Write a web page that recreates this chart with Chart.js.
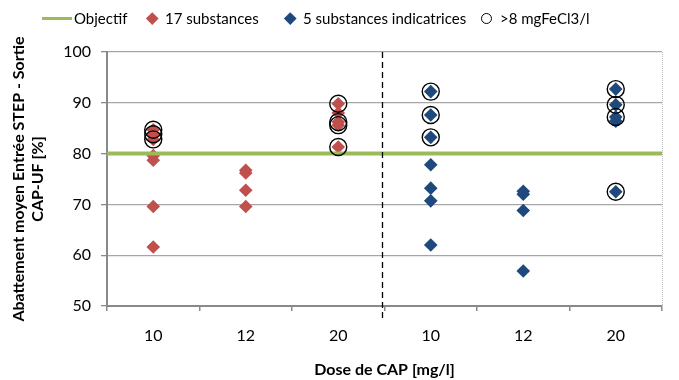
<!DOCTYPE html>
<html>
<head>
<meta charset="utf-8">
<script src="https://cdn.jsdelivr.net/npm/chart.js@4/dist/chart.umd.min.js"></script>
<style>
  html, body { margin: 0; padding: 0; background: #fff; }
  #wrap { position: relative; width: 679px; height: 380px; }
  #legend { position: absolute; left: 0; top: 0; width: 679px; height: 36px; font-family: Lato, sans-serif; font-size: 15px; color: #000; }
  #legend .it { position: absolute; top: 9px; height: 18px; line-height: 18px; white-space: nowrap; }
  .mk { position: absolute; }
  .mk-line { width: 30px; height: 3px; background: #9BBB59; top: 8px; }
  .mk-dia { width: 8.5px; height: 8.5px; transform: rotate(45deg); top: 5px; }
  .mk-circ { width: 9px; height: 9px; border: 1.3px solid #000; border-radius: 50%; top: 3.5px; }
</style>
</head>
<body>
<div id="wrap">
  <canvas id="chart" width="679" height="380"></canvas>
  <div id="legend">
    <div class="it" style="left:42px"><span class="mk mk-line" style="left:0"></span><span style="margin-left:32px">Objectif</span></div>
    <div class="it" style="left:146px"><span class="mk mk-dia" style="left:2px;background:#C0504D"></span><span style="margin-left:19px">17 substances</span></div>
    <div class="it" style="left:284px"><span class="mk mk-dia" style="left:2px;background:#1F497D"></span><span style="margin-left:19px">5 substances indicatrices</span></div>
    <div class="it" style="left:481px"><span class="mk mk-circ" style="left:0"></span><span style="margin-left:19px">&gt;8 mgFeCl3/l</span></div>
  </div>
</div>
<script>
// categories (dose de CAP) - first three for the 17 substances, last three for the 5 indicators
const categories = ['10', '12', '20', '10', '12', '20'];
const objectif = 80;

// 17 substances, per category
const sub17 = [
  [84.7, 83.8, 82.8, 79.6, 78.7, 69.6, 61.6],
  [76.7, 76.2, 72.8, 69.6],
  [89.8, 88.0, 86.2, 85.6, 81.3],
  [], [], []
];

// 5 substances indicatrices, per category
const sub5 = [
  [], [], [],
  [92.2, 87.6, 83.2, 77.8, 73.2, 70.7, 62.0],
  [72.6, 72.0, 68.8, 56.9],
  [92.7, 89.6, 87.2, 86.4, 72.5]
];

// points with > 8 mg FeCl3/l (circled)
const fecl3 = [
  [84.7, 83.8, 82.8],
  [],
  [89.8, 86.2, 85.6, 81.3],
  [92.2, 87.6, 83.2],
  [],
  [92.7, 89.6, 87.2, 72.5]
];

const yTicks = [50, 60, 70, 80, 90, 100];

function toPoints(groups) {
  const pts = [];
  groups.forEach((vals, i) => vals.forEach(v => pts.push({ x: i + 0.5, y: v })));
  return pts;
}

// dashed separator + dotted right border
const sepPlugin = {
  id: 'sep',
  afterDatasetsDraw(chart) {
    const ctx = chart.ctx, a = chart.chartArea, xs = chart.scales.x;
    const px = Math.round(xs.getPixelForValue(3)) - 2.5;
    ctx.save();
    ctx.strokeStyle = '#000';
    ctx.lineWidth = 1.3;
    ctx.setLineDash([6, 4]);
    ctx.beginPath();
    ctx.moveTo(px, a.top);
    ctx.lineTo(px, a.bottom + 13);
    ctx.stroke();
    ctx.strokeStyle = '#BFBFBF';
    ctx.lineWidth = 1;
    ctx.setLineDash([1, 1]);
    ctx.beginPath();
    ctx.moveTo(a.right + 0.5, a.top);
    ctx.lineTo(a.right + 0.5, a.bottom);
    ctx.stroke();
    ctx.restore();
  }
};

Chart.defaults.font.family = 'Lato, sans-serif';
Chart.defaults.color = '#000';

new Chart(document.getElementById('chart').getContext('2d'), {
  type: 'scatter',
  data: {
    datasets: [
      { label: '>8 mgFeCl3/l', data: toPoints(fecl3), pointStyle: 'circle', pointRadius: 8.5,
        backgroundColor: 'rgba(0,0,0,0)', borderColor: '#000', borderWidth: 1.4, order: 0 },
      { label: 'Objectif', type: 'line', data: [{ x: 0, y: objectif }, { x: 6, y: objectif }],
        borderColor: '#9BBB59', borderWidth: 4, pointRadius: 0, order: 1 },
      { label: '17 substances', data: toPoints(sub17), pointStyle: 'rectRot', pointRadius: 6.8,
        backgroundColor: '#C0504D', borderWidth: 0, order: 2 },
      { label: '5 substances indicatrices', data: toPoints(sub5), pointStyle: 'rectRot', pointRadius: 6.8,
        backgroundColor: '#1F497D', borderWidth: 0, order: 2 }
    ]
  },
  options: {
    responsive: false,
    animation: false,
    layout: { padding: { top: 52, right: 17, left: 0, bottom: 0 } },
    plugins: { legend: { display: false }, tooltip: { enabled: false } },
    scales: {
      x: {
        type: 'linear', min: 0, max: 6,
        afterBuildTicks: s => { s.ticks = categories.concat(['']).map((c, i) => ({ value: i })); },
        afterFit: s => { s.height = 74; },
        ticks: {
          callback: (v, i) => categories[i] || '',
          labelOffset: 46.25, padding: 15, maxRotation: 0, autoSkip: false,
          font: { size: 16 }
        },
        grid: { drawOnChartArea: false, tickLength: 5, color: '#898989', lineWidth: 1.5 },
        border: { color: '#898989', width: 2 },
        title: { display: true, text: 'Dose de CAP [mg/l]', font: { size: 16, weight: 'bold' }, padding: { bottom: 1 } }
      },
      y: {
        min: 50, max: 100,
        afterBuildTicks: s => { s.ticks = yTicks.map(v => ({ value: v })); },
        afterFit: s => { s.width = 107; },
        ticks: { padding: 10, font: { size: 16 } },
        grid: { color: '#A6A6A6', lineWidth: 1.3, tickLength: 6, tickColor: '#898989' },
        border: { color: '#898989', width: 2 },
        title: {
          display: true,
          text: ['Abattement moyen Entrée STEP - Sortie', 'CAP-UF [%]'],
          font: { size: 16, weight: 'bold', lineHeight: 1.15 }, padding: { top: 10 }
        }
      }
    }
  },
  plugins: [sepPlugin]
});
</script>
</body>
</html>
